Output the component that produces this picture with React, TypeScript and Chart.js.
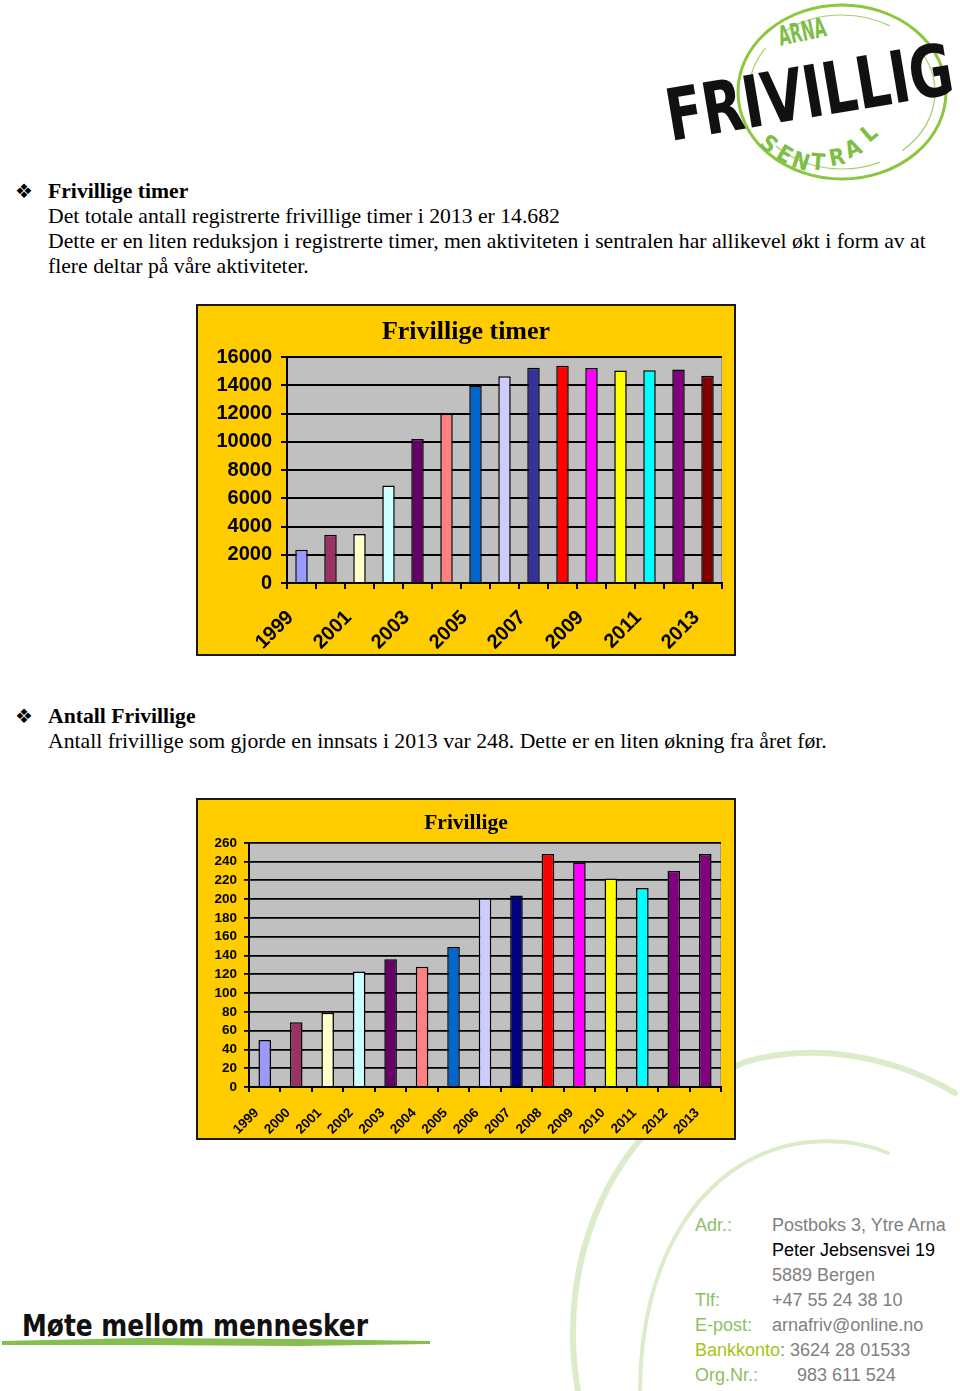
import React, { useEffect, useRef } from 'react';
import { Chart, registerables } from 'chart.js';

Chart.register(...registerables);

// ---------- data ----------
const years = ['1999', '2000', '2001', '2002', '2003', '2004', '2005', '2006', '2007', '2008', '2009', '2010', '2011', '2012', '2013'];
const timerAxisLabels = ['1999', '', '2001', '', '2003', '', '2005', '', '2007', '', '2009', '', '2011', '', '2013'];
const timerValues = [2350, 3420, 3470, 6900, 10200, 12000, 14000, 14650, 15250, 15400, 15230, 15060, 15080, 15130, 14682];
const timerColors = ['#9999FF', '#993366', '#FFFFCC', '#CCFFFF', '#660066', '#FF8080', '#0066CC', '#CCCCFF', '#333399', '#FF0000', '#FF00FF', '#FFFF00', '#00FFFF', '#800080', '#800000'];
const timerYMax = 16000;
const timerYStep = 2000;

const frivilligeAxisLabels = ['1999', '2000', '2001', '2002', '2003', '2004', '2005', '2006', '2007', '2008', '2009', '2010', '2011', '2012', '2013'];
const frivilligeValues = [50, 69, 79, 123, 136, 128, 149, 201, 204, 248, 239, 222, 212, 230, 248];
const frivilligeColors = ['#9999FF', '#993366', '#FFFFCC', '#CCFFFF', '#660066', '#FF8080', '#0066CC', '#CCCCFF', '#000080', '#FF0000', '#FF00FF', '#FFFF00', '#00FFFF', '#800080', '#800080'];
const frivilligeYMax = 260;
const frivilligeYStep = 20;

// ---------- plugin: grey plot area ----------
const plotBg = {
  id: 'plotBg',
  beforeDraw(chart: any) {
    const { ctx, chartArea } = chart;
    if (!chartArea) return;
    ctx.save();
    ctx.fillStyle = '#C0C0C0';
    ctx.fillRect(chartArea.left, chartArea.top, chartArea.right - chartArea.left, chartArea.bottom - chartArea.top);
    ctx.strokeStyle = '#9A9A9A';
    ctx.lineWidth = 1;
    ctx.beginPath();
    ctx.moveTo(chartArea.right - 0.5, chartArea.top);
    ctx.lineTo(chartArea.right - 0.5, chartArea.bottom);
    ctx.stroke();
    ctx.restore();
  },
};

type Geom = {
  w: number; h: number;
  yWidth: number; xHeight: number; padSide: number;
  titleSize: number; titleTop: number; titleBottom: number;
  tickSize: number;
  yTickLen: number; yPad: number;
  xTickLen: number; xPad: number; xLabelOffset: number;
  barPct: number; gridWidth: number;
};

function BarChart(props: {
  labels: string[]; axisLabels: string[]; values: number[]; colors: string[];
  title: string; yMax: number; yStep: number; geom: Geom;
}) {
  const ref = useRef<HTMLCanvasElement>(null);
  const { labels, axisLabels, values, colors, title, yMax, yStep, geom } = props;
  useEffect(() => {
    const tickFont = { family: '"Liberation Sans", Arial, sans-serif', size: geom.tickSize, weight: 'bold' as const };
    const chart = new Chart(ref.current as HTMLCanvasElement, {
      type: 'bar',
      data: {
        labels,
        datasets: [{
          data: values,
          backgroundColor: colors,
          borderColor: '#000',
          borderWidth: 1.5,
          barPercentage: geom.barPct,
          categoryPercentage: 1,
        }],
      },
      options: {
        animation: false,
        responsive: false,
        maintainAspectRatio: false,
        layout: { padding: { top: 0, left: geom.padSide, right: geom.padSide, bottom: 0 } },
        plugins: {
          legend: { display: false },
          tooltip: { enabled: false },
          title: {
            display: true,
            text: title,
            color: '#000',
            font: { family: '"Liberation Serif", "Times New Roman", serif', size: geom.titleSize, weight: 'bold' },
            padding: { top: geom.titleTop, bottom: geom.titleBottom },
          },
        },
        scales: {
          x: {
            grid: { offset: true, drawOnChartArea: false, color: '#000', lineWidth: 2, tickLength: geom.xTickLen },
            border: { color: '#000', width: 2 },
            ticks: {
              autoSkip: false,
              minRotation: 45,
              maxRotation: 45,
              padding: geom.xPad,
              labelOffset: geom.xLabelOffset,
              color: '#000',
              font: tickFont,
              callback: (_v: any, i: number) => axisLabels[i],
            },
            afterFit: (s: any) => {
              s.height = geom.xHeight;
              s.paddingLeft = 0;
              s.paddingRight = 0;
            },
          },
          y: {
            min: 0,
            max: yMax,
            grid: { color: '#000', lineWidth: geom.gridWidth, tickLength: geom.yTickLen },
            border: { color: '#000', width: 2 },
            ticks: { stepSize: yStep, autoSkip: false, padding: geom.yPad, color: '#000', font: tickFont, callback: (v: any) => String(v) },
            afterFit: (s: any) => { s.width = geom.yWidth; },
          },
        },
      },
      plugins: [plotBg],
    });
    return () => chart.destroy();
  }, []);
  return <canvas ref={ref} width={geom.w} height={geom.h} style={{ display: 'block', width: geom.w, height: geom.h }} />;
}

const geom1: Geom = {
  w: 536, h: 348, yWidth: 77, xHeight: 71, padSide: 12,
  titleSize: 26, titleTop: 11, titleBottom: 9,
  tickSize: 20, yTickLen: 6, yPad: 9,
  xTickLen: 6, xPad: 17, xLabelOffset: -11, barPct: 0.43, gridWidth: 2,
};
const geom2: Geom = {
  w: 536, h: 338, yWidth: 38, xHeight: 51, padSide: 13,
  titleSize: 21.5, titleTop: 11, titleBottom: 6,
  tickSize: 13.5, yTickLen: 5, yPad: 7,
  xTickLen: 5, xPad: 13, xLabelOffset: -8, barPct: 0.4, gridWidth: 1.8,
};

const serif = '"Liberation Serif", "Times New Roman", serif';
const sans = '"Liberation Sans", Arial, sans-serif';
const green = '#8CC063';
const grey = '#7F7F7F';

const abs = (left: number, top: number, extra: React.CSSProperties = {}): React.CSSProperties => ({
  position: 'absolute', left, top, whiteSpace: 'nowrap', ...extra,
});

function Logo() {
  const sentral = [
    { c: 'S', x: 769, y: 152, r: 40 },
    { c: 'E', x: 785, y: 162, r: 30 },
    { c: 'N', x: 801, y: 169, r: 18 },
    { c: 'T', x: 818, y: 170, r: 5 },
    { c: 'R', x: 837, y: 165, r: -10 },
    { c: 'A', x: 853, y: 156, r: -25 },
    { c: 'L', x: 869, y: 141, r: -40 },
  ];
  const fam = '"DejaVu Sans Condensed", "DejaVu Sans", sans-serif';
  return (
    <svg width={960} height={190} style={{ position: 'absolute', left: 0, top: 0 }}>
      <ellipse cx={842} cy={92} rx={104} ry={87} fill="none" stroke="#8DC63F" strokeWidth={3} />
      <ellipse cx={842} cy={92} rx={93} ry={77} fill="none" stroke="#A3D06C" strokeWidth={1.2} strokeDasharray="70 25 110 40" />
      <text x={802} y={41} fontSize={27} fontWeight="bold" fill="#7DBE45" textAnchor="middle"
        fontFamily={fam} textLength={48} lengthAdjust="spacingAndGlyphs"
        transform="rotate(-12 802 31)">ARNA</text>
      <text x={813.5} y={117} fontSize={72} fontWeight="bold" fill="#111" textAnchor="middle"
        fontFamily={fam} textLength={290} lengthAdjust="spacingAndGlyphs"
        transform="rotate(-9.5 813.5 117)">FRIVILLIG</text>
      {sentral.map((l, i) => (
        <text key={i} x={l.x} y={l.y} fontSize={23} fontWeight="bold" fill="#7DBE45" textAnchor="middle"
          fontFamily={fam}
          transform={`rotate(${l.r} ${l.x} ${l.y - 8})`}>{l.c}</text>
      ))}
    </svg>
  );
}

function Decor() {
  return (
    <svg width={960} height={1391} style={{ position: 'absolute', left: 0, top: 0 }}>
      <path d="M 578 1391 C 555 1260, 610 1120, 745 1062 C 820 1040, 900 1060, 955 1093" fill="none" stroke="#DCECCB" strokeWidth={6} strokeLinecap="round" />
      <path d="M 640 1391 C 640 1260, 700 1160, 800 1143 C 840 1138, 870 1145, 888 1153" fill="none" stroke="#DCECCB" strokeWidth={4} strokeLinecap="round" />
      <path d="M 2 1341 L 140 1338 L 300 1339 L 430 1341 L 430 1344 L 300 1346 L 140 1345 L 2 1345 Z" fill="#86BF4F" />
      <text x={22} y={1336} fontSize={30} fontWeight="bold" fill="#111"
        fontFamily='"DejaVu Sans Condensed", "DejaVu Sans", sans-serif' textLength={346} lengthAdjust="spacingAndGlyphs">Møte mellom mennesker</text>
    </svg>
  );
}

export default function App() {
  const body: React.CSSProperties = { fontFamily: serif, fontSize: 21.7, lineHeight: '25px', color: '#000' };
  const bullet: React.CSSProperties = { fontFamily: '"DejaVu Sans", sans-serif', fontSize: 20, lineHeight: '25px', color: '#000' };
  const foot: React.CSSProperties = { fontFamily: sans, fontSize: 18, lineHeight: '25px' };
  return (
    <div style={{ position: 'absolute', left: 0, top: 0, width: 960, height: 1391, background: '#fff', overflow: 'hidden' }}>
      <Decor />
      <Logo />

      <div style={abs(15, 179, bullet)}>❖</div>
      <div style={abs(48, 179, body)}>
        <div style={{ fontWeight: 'bold' }}>Frivillige timer</div>
        <div>Det totale antall registrerte frivillige timer i 2013 er 14.682</div>
        <div>Dette er en liten reduksjon i registrerte timer, men aktiviteten i sentralen har allikevel økt i form av at</div>
        <div>flere deltar på våre aktiviteter.</div>
      </div>

      <div style={abs(196, 304, { width: 540, height: 352, boxSizing: 'border-box', border: '2px solid #1a1a1a', background: '#FFCC00' })}>
        <BarChart labels={years} axisLabels={timerAxisLabels} values={timerValues} colors={timerColors}
          title="Frivillige timer" yMax={timerYMax} yStep={timerYStep} geom={geom1} />
      </div>

      <div style={abs(15, 704, bullet)}>❖</div>
      <div style={abs(48, 704, body)}>
        <div style={{ fontWeight: 'bold' }}>Antall Frivillige</div>
        <div>Antall frivillige som gjorde en innsats i 2013 var 248. Dette er en liten økning fra året før.</div>
      </div>

      <div style={abs(196, 798, { width: 540, height: 342, boxSizing: 'border-box', border: '2px solid #1a1a1a', background: '#FFCC00' })}>
        <BarChart labels={years} axisLabels={frivilligeAxisLabels} values={frivilligeValues} colors={frivilligeColors}
          title="Frivillige" yMax={frivilligeYMax} yStep={frivilligeYStep} geom={geom2} />
      </div>

      <div style={abs(695, 1213, foot)}>
        <div style={{ position: 'relative', height: 25 }}><span style={{ color: green }}>Adr.:</span><span style={{ position: 'absolute', left: 77, color: grey }}>Postboks 3, Ytre Arna</span></div>
        <div style={{ position: 'relative', height: 25 }}><span style={{ position: 'absolute', left: 77, color: '#000' }}>Peter Jebsensvei 19</span></div>
        <div style={{ position: 'relative', height: 25 }}><span style={{ position: 'absolute', left: 77, color: grey }}>5889 Bergen</span></div>
        <div style={{ position: 'relative', height: 25 }}><span style={{ color: green }}>Tlf:</span><span style={{ position: 'absolute', left: 77, color: grey }}>+47 55 24 38 10</span></div>
        <div style={{ position: 'relative', height: 25 }}><span style={{ color: green }}>E-post:</span><span style={{ position: 'absolute', left: 77, color: grey }}>arnafriv@online.no</span></div>
        <div style={{ position: 'relative', height: 25 }}><span style={{ color: '#A5C418' }}>Bankkonto</span><span style={{ color: grey }}>: 3624 28 01533</span></div>
        <div style={{ position: 'relative', height: 25 }}><span style={{ color: green }}>Org.Nr.:</span><span style={{ position: 'absolute', left: 102, color: grey }}>983 611 524</span></div>
      </div>
    </div>
  );
}
